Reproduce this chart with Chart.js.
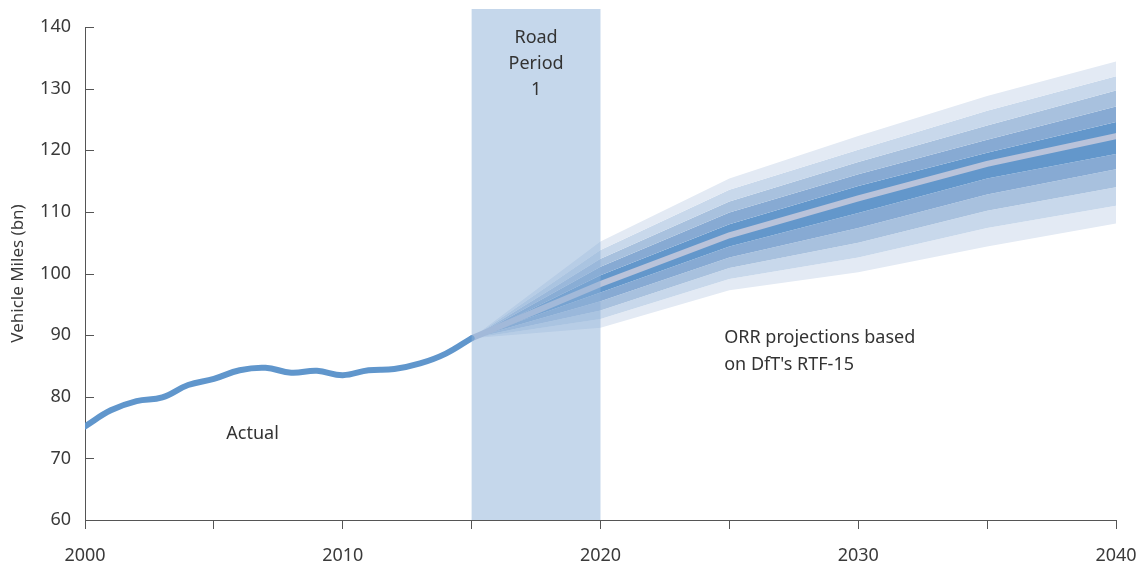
<!DOCTYPE html>
<html>
<head>
<meta charset="utf-8">
<script src="https://cdn.jsdelivr.net/npm/chart.js@4.4.1/dist/chart.umd.min.js"></script>
<style>
  html, body { margin: 0; padding: 0; background: #fff; }
  #fanChart { display: block; }
</style>
</head>
<body>
<canvas id="fanChart" width="1137" height="571"></canvas>
<script>
const fanChart = document.querySelector("#fanChart");

// actual traffic, 2000-2015
const years =  [2000, 2001, 2002, 2003, 2004, 2005, 2006, 2007, 2008, 2009, 2010, 2011, 2012, 2013, 2014, 2015];
const actual = [75.2, 77.8, 79.3, 79.9, 81.9, 82.9, 84.3, 84.7, 83.9, 84.2, 83.5, 84.3, 84.5, 85.4, 87.0, 89.5];

// projection fan, 2015-2040
const projYears = [2015, 2020, 2025, 2030, 2035, 2040];
const central = [89.5, 98.3, 106.2, 112.2, 117.8, 122.3];
const upper5 =  [89.5, 105.2, 115.4, 122.3, 128.8, 134.4];
const upper4 =  [89.5, 103.8, 113.6, 120.1, 126.4, 132.0];
const upper3 =  [89.5, 102.4, 111.7, 118.1, 124.0, 129.7];
const upper2 =  [89.5, 101.1, 109.9, 116.1, 121.7, 127.1];
const upper1 =  [89.5, 99.7, 108.0, 114.2, 119.6, 124.6];
const lower1 =  [89.5, 96.9, 104.4, 109.8, 115.4, 119.4];
const lower2 =  [89.5, 95.5, 102.6, 107.4, 112.8, 116.9];
const lower3 =  [89.5, 94.0, 100.9, 105.0, 110.2, 114.0];
const lower4 =  [89.5, 92.6, 99.1, 102.6, 107.4, 111.0];
const lower5 =  [89.5, 91.2, 97.3, 100.2, 104.4, 108.1];

const roadPeriod = [2015, 2020];

const FONT = "'Noto Sans', 'Open Sans', sans-serif";
const TEXT = '#3a3a3a';

function pts(xs, ys) {
    return xs.map((x, i) => ({x: x, y: ys[i]}));
}

function band(values, color, fill) {
    return {
        data: pts(projYears, values),
        borderWidth: 0,
        pointRadius: 0,
        tension: 0,
        backgroundColor: color,
        fill: fill
    };
}

// shaded period, in-chart tick marks on y, and the text notes
const extras = {
    id: 'extras',
    afterDatasetsDraw(chart) {
        const {ctx, chartArea, scales} = chart;
        const x = scales.x, y = scales.y;
        ctx.save();
        const x0 = x.getPixelForValue(roadPeriod[0]);
        const x1 = x.getPixelForValue(roadPeriod[1]);
        ctx.fillStyle = 'rgba(139,175,215,0.5)';
        ctx.fillRect(x0, chartArea.top - 18, x1 - x0, chartArea.bottom - chartArea.top + 18);

        ctx.strokeStyle = '#555';
        ctx.lineWidth = 1;
        y.ticks.forEach(t => {
            const py = Math.round(y.getPixelForValue(t.value)) + 0.5;
            ctx.beginPath();
            ctx.moveTo(chartArea.left, py);
            ctx.lineTo(chartArea.left + 9, py);
            ctx.stroke();
        });

        ctx.fillStyle = '#333';
        ctx.font = '18px ' + FONT;
        ctx.textBaseline = 'middle';
        ctx.textAlign = 'center';
        const xm = (x0 + x1) / 2;
        ctx.fillText('Road', xm, 38);
        ctx.fillText('Period', xm, 64);
        ctx.fillText('1', xm, 90);
        ctx.fillText('Actual', x.getPixelForValue(2006.5), y.getPixelForValue(74));
        ctx.textAlign = 'left';
        ctx.fillText('ORR projections based', x.getPixelForValue(2024.8), y.getPixelForValue(89.5));
        ctx.fillText("on DfT's RTF-15", x.getPixelForValue(2024.8), y.getPixelForValue(85.1));
        ctx.restore();
    }
};

new Chart(fanChart, {
    type: 'line',
    data: {
        datasets: [
            {
                data: pts(years, actual),
                borderColor: '#6096cc',
                borderWidth: 6,
                borderCapStyle: 'round',
                pointRadius: 0,
                tension: 0.4,
                fill: false
            },
            {
                data: pts(projYears, central),
                borderColor: '#b9c3da',
                borderWidth: 6,
                borderCapStyle: 'round',
                pointRadius: 0,
                tension: 0,
                fill: false
            },
            band(upper5, '#e3eaf4', '+1'),
            band(upper4, '#c8d8eb', '+1'),
            band(upper3, '#a8c1de', '+1'),
            band(upper2, '#87aad3', '+1'),
            band(upper1, '#6397cb', '+1'),
            band(lower1, '#87aad3', '+1'),
            band(lower2, '#a8c1de', '+1'),
            band(lower3, '#c8d8eb', '+1'),
            band(lower4, '#e3eaf4', '+1'),
            band(lower5, 'rgba(0,0,0,0)', false)
        ]
    },
    options: {
        responsive: false,
        animation: false,
        layout: {
            padding: {top: 27, right: 21, left: 0, bottom: 0}
        },
        plugins: {
            legend: {display: false},
            tooltip: {enabled: false}
        },
        scales: {
            x: {
                type: 'linear',
                min: 2000,
                max: 2040,
                afterFit(scale) {
                    scale.height = 51;
                    scale.paddingLeft = 0;
                    scale.paddingRight = 0;
                },
                grid: {
                    drawOnChartArea: false,
                    drawTicks: true,
                    tickLength: 9,
                    color: '#555'
                },
                border: {display: true, color: '#555', width: 1},
                ticks: {
                    stepSize: 5,
                    autoSkip: false,
                    maxRotation: 0,
                    padding: 16,
                    color: TEXT,
                    font: {family: FONT, size: 18},
                    callback: v => (v % 10 === 0 ? String(v) : '')
                }
            },
            y: {
                min: 60,
                max: 140,
                afterFit(scale) { scale.width = 85; },
                grid: {
                    drawOnChartArea: false,
                    drawTicks: false
                },
                border: {display: true, color: '#555', width: 1},
                ticks: {
                    stepSize: 10,
                    padding: 14,
                    color: TEXT,
                    font: {family: FONT, size: 18}
                },
                title: {
                    display: true,
                    text: 'Vehicle Miles (bn)',
                    color: TEXT,
                    font: {family: FONT, size: 17},
                    padding: {top: 8, bottom: 0}
                }
            }
        }
    },
    plugins: [extras]
});
</script>
</body>
</html>
